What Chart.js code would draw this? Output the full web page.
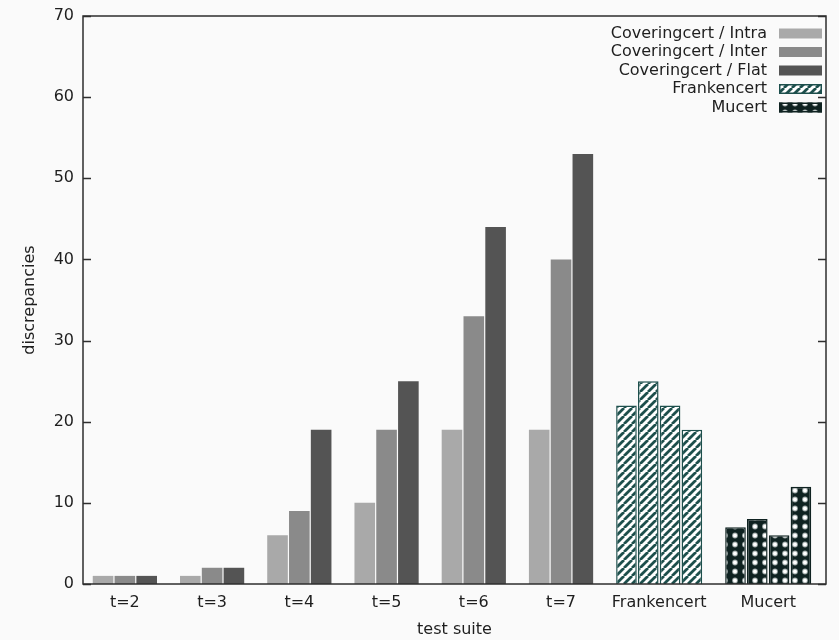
<!DOCTYPE html>
<html>
<head>
<meta charset="utf-8">
<script src="https://cdn.jsdelivr.net/npm/chart.js@4.4.0/dist/chart.umd.min.js"></script>
<style>
  html, body { margin: 0; padding: 0; background: #fafafa; }
  canvas { display: block; }
</style>
</head>
<body>
<canvas id="chart" width="839" height="640"></canvas>
<script>
// test suites along the x axis
const groups = ['t=2', 't=3', 't=4', 't=5', 't=6', 't=7', 'Frankencert', 'Mucert'];

// Coveringcert results, one value per t-suite
const intra = [1, 1, 6, 10, 19, 19];
const inter = [1, 2, 9, 19, 33, 40];
const flat = [1, 2, 19, 25, 44, 53];

// four runs each for the other two generators
const frankencert = [22, 25, 22, 19];
const mucert = [7, 8, 6, 12];

const yTicks = [0, 10, 20, 30, 40, 50, 60, 70];

const FONT = "'DejaVu Sans', sans-serif";
const TEXT = '#1e1e1e';
const SIZE = 16;

// bar slots: every cluster is followed by one empty slot
const clusterSizes = [3, 3, 3, 3, 3, 3, frankencert.length, mucert.length];
const clusterStart = [];
const clusterCenter = [];
let slot = 0;
clusterSizes.forEach(n => {
  clusterStart.push(slot);
  clusterCenter.push(slot + (n - 1) / 2);
  slot += n + 1;
});

// fill patterns
function stripes(color) {
  const c = document.createElement('canvas');
  c.width = c.height = 8;
  const g = c.getContext('2d');
  g.fillStyle = '#ffffff';
  g.fillRect(0, 0, 8, 8);
  g.strokeStyle = color;
  g.lineWidth = 2.8;
  g.beginPath();
  for (let k = -1; k <= 1; k++) {
    g.moveTo(k * 8, 8);
    g.lineTo(k * 8 + 8, 0);
  }
  g.stroke();
  return g.createPattern(c, 'repeat');
}

function dots(color) {
  const c = document.createElement('canvas');
  c.width = 10;
  c.height = 9;
  const g = c.getContext('2d');
  g.fillStyle = color;
  g.fillRect(0, 0, 10, 9);
  g.fillStyle = '#9aa5a4';
  g.beginPath();
  g.arc(5, 4.5, 2.9, 0, Math.PI * 2);
  g.fill();
  g.fillStyle = '#ffffff';
  g.beginPath();
  g.arc(5, 4.5, 2.0, 0, Math.PI * 2);
  g.fill();
  return g.createPattern(c, 'repeat');
}

const tealDark = '#1d4f4c';
const mucertDark = '#0f2221';

function tPoints(values, k) {
  return values.map((v, i) => ({ x: clusterStart[i] + k, y: v }));
}
function runPoints(values, g) {
  return values.map((v, i) => ({ x: clusterStart[g] + i, y: v }));
}

const datasets = [
  { label: 'Coveringcert / Intra', data: tPoints(intra, 0), backgroundColor: '#a9a9a9', borderWidth: 0 },
  { label: 'Coveringcert / Inter', data: tPoints(inter, 1), backgroundColor: '#8a8a8a', borderWidth: 0 },
  { label: 'Coveringcert / Flat', data: tPoints(flat, 2), backgroundColor: '#545454', borderWidth: 0 },
  { label: 'Frankencert', data: runPoints(frankencert, 6), backgroundColor: stripes(tealDark), borderColor: tealDark, borderWidth: 1.5 },
  { label: 'Mucert', data: runPoints(mucert, 7), backgroundColor: dots(mucertDark), borderColor: mucertDark, borderWidth: 1.5 }
];

// plot border and inward y tics on both sides
const framePlugin = {
  id: 'frame',
  afterDatasetsDraw(chart) {
    const { ctx, chartArea: a, scales: { y } } = chart;
    ctx.save();
    ctx.strokeStyle = '#2e2e2e';
    ctx.lineWidth = 1.5;
    ctx.strokeRect(a.left, a.top, a.right - a.left, a.bottom - a.top);
    ctx.beginPath();
    y.ticks.forEach(t => {
      const py = Math.round(y.getPixelForValue(t.value)) + 0.5;
      ctx.moveTo(a.left, py);
      ctx.lineTo(a.left + 8, py);
      ctx.moveTo(a.right, py);
      ctx.lineTo(a.right - 8, py);
    });
    ctx.stroke();
    ctx.restore();
  }
};

// gnuplot style key: right aligned text, sample box on the right
const keyPlugin = {
  id: 'key',
  afterDraw(chart) {
    const { ctx, chartArea: a } = chart;
    const textRight = a.right - 59;
    const boxLeft = a.right - 47;
    const boxW = 43;
    ctx.save();
    ctx.font = SIZE + 'px ' + FONT;
    ctx.textAlign = 'right';
    ctx.textBaseline = 'middle';
    chart.data.datasets.forEach((ds, i) => {
      const cy = a.top + 17.5 + i * 18.5;
      ctx.fillStyle = TEXT;
      ctx.fillText(ds.label, textRight, cy);
      ctx.fillStyle = ds.backgroundColor;
      ctx.fillRect(boxLeft, cy - 5, boxW, 10);
      if (ds.borderWidth) {
        ctx.strokeStyle = ds.borderColor;
        ctx.lineWidth = 1.5;
        ctx.strokeRect(boxLeft + 0.75, cy - 4.25, boxW - 1.5, 8.5);
      }
    });
    ctx.restore();
  }
};

new Chart(document.getElementById('chart'), {
  type: 'bar',
  data: { datasets },
  options: {
    responsive: false,
    animation: false,
    grouped: false,
    categoryPercentage: 1,
    barPercentage: 0.945,
    layout: { padding: { top: 16, right: 13, left: 0, bottom: 0 } },
    plugins: {
      legend: { display: false },
      tooltip: { enabled: false }
    },
    scales: {
      x: {
        type: 'linear',
        min: -0.92,
        max: slot - 1 + 0.15,
        offset: false,
        grid: { display: false, drawTicks: false, offset: false },
        border: { display: false },
        afterBuildTicks: s => { s.ticks = clusterCenter.map(v => ({ value: v })); },
        afterFit: s => {
          s.height = 56;
          s.paddingLeft = 0;
          s.paddingRight = 0;
        },
        ticks: {
          autoSkip: false,
          maxRotation: 0,
          padding: 9,
          color: TEXT,
          font: { family: FONT, size: SIZE },
          callback: (v, i) => groups[i]
        },
        title: {
          display: true,
          text: 'test suite',
          color: TEXT,
          font: { family: FONT, size: SIZE },
          padding: { top: 0, bottom: 1 }
        }
      },
      y: {
        min: 0,
        max: 70,
        grid: { display: false, drawTicks: false },
        border: { display: false },
        afterBuildTicks: s => { s.ticks = yTicks.map(v => ({ value: v })); },
        afterFit: s => {
          s.width = 83;
          s.paddingTop = 0;
          s.paddingBottom = 0;
        },
        ticks: {
          padding: 9,
          color: TEXT,
          font: { family: FONT, size: SIZE }
        },
        title: {
          display: true,
          text: 'discrepancies',
          color: TEXT,
          font: { family: FONT, size: SIZE },
          padding: { top: 20, bottom: 0 }
        }
      }
    }
  },
  plugins: [framePlugin, keyPlugin]
});
</script>
</body>
</html>
